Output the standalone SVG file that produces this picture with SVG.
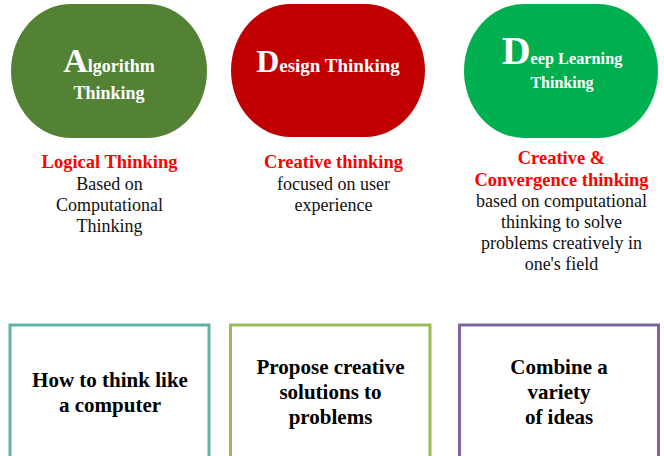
<svg xmlns="http://www.w3.org/2000/svg" width="664" height="456" viewBox="0 0 664 456">
<style>
text{font-family:"Liberation Serif","Times New Roman",serif;text-anchor:middle}
.ov{font-weight:bold;fill:#fff}
.hd{font-weight:bold;fill:#ff0000;font-size:18.5px}
.bd{fill:#111;font-size:18px}
.bx{fill:none;stroke-width:3}
.bt{font-weight:bold;fill:#000;font-size:21px}
</style>
<rect width="664" height="456" fill="#fff"/>
<g id="node-algorithm">
<rect x="11" y="4" width="196" height="134" rx="60" ry="67" fill="#548235"/>
<text class="ov" x="109" y="72"><tspan font-size="34">A</tspan><tspan font-size="18">lgorithm</tspan></text>
<text class="ov" x="109" y="99" font-size="18">Thinking</text>
</g>
<g id="node-design">
<rect x="231" y="4" width="194" height="133" rx="60" ry="66.5" fill="#c00000"/>
<text class="ov" x="328" y="72"><tspan font-size="32">D</tspan><tspan font-size="19">esign Thinking</tspan></text>
</g>
<g id="node-deep">
<rect x="464" y="4" width="194" height="134" rx="60" ry="67" fill="#00b050"/>
<text class="ov" x="562" y="64"><tspan font-size="40">D</tspan><tspan font-size="16.3">eep Learning</tspan></text>
<text class="ov" x="562" y="88" font-size="16">Thinking</text>
</g>
<g id="desc-algorithm">
<text class="hd" x="109.5" y="168">Logical Thinking</text>
<text class="bd" x="109.5" y="189.5">Based on</text>
<text class="bd" x="109.5" y="210.5">Computational</text>
<text class="bd" x="109.5" y="231.5">Thinking</text>
</g>
<g id="desc-design">
<text class="hd" x="333.5" y="168">Creative thinking</text>
<text class="bd" x="333.5" y="190">focused on user</text>
<text class="bd" x="333.5" y="211">experience</text>
</g>
<g id="desc-deep">
<text class="hd" x="561.5" y="163.5">Creative &amp;</text>
<text class="hd" x="561.5" y="185.5">Convergence thinking</text>
<text class="bd" x="561.5" y="206.5">based on computational</text>
<text class="bd" x="561.5" y="227.5">thinking to solve</text>
<text class="bd" x="561.5" y="248.5">problems creatively in</text>
<text class="bd" x="561.5" y="270">one's field</text>
</g>
<g id="box-computer">
<rect class="bx" x="10" y="325" width="199" height="150" stroke="#5fb4a6"/>
<text class="bt" x="110" y="387">How to think like</text>
<text class="bt" x="110" y="412">a computer</text>
</g>
<g id="box-creative">
<rect class="bx" x="230.5" y="325" width="199.5" height="150" stroke="#9bbb59"/>
<text class="bt" x="330.5" y="374">Propose creative</text>
<text class="bt" x="330.5" y="399">solutions to</text>
<text class="bt" x="330.5" y="423.5">problems</text>
</g>
<g id="box-combine">
<rect class="bx" x="459.5" y="325" width="199" height="150" stroke="#8064a2"/>
<text class="bt" x="559" y="374">Combine a</text>
<text class="bt" x="559" y="399">variety</text>
<text class="bt" x="559" y="423.5">of ideas</text>
</g>
<g id="connectors"/>
</svg>
